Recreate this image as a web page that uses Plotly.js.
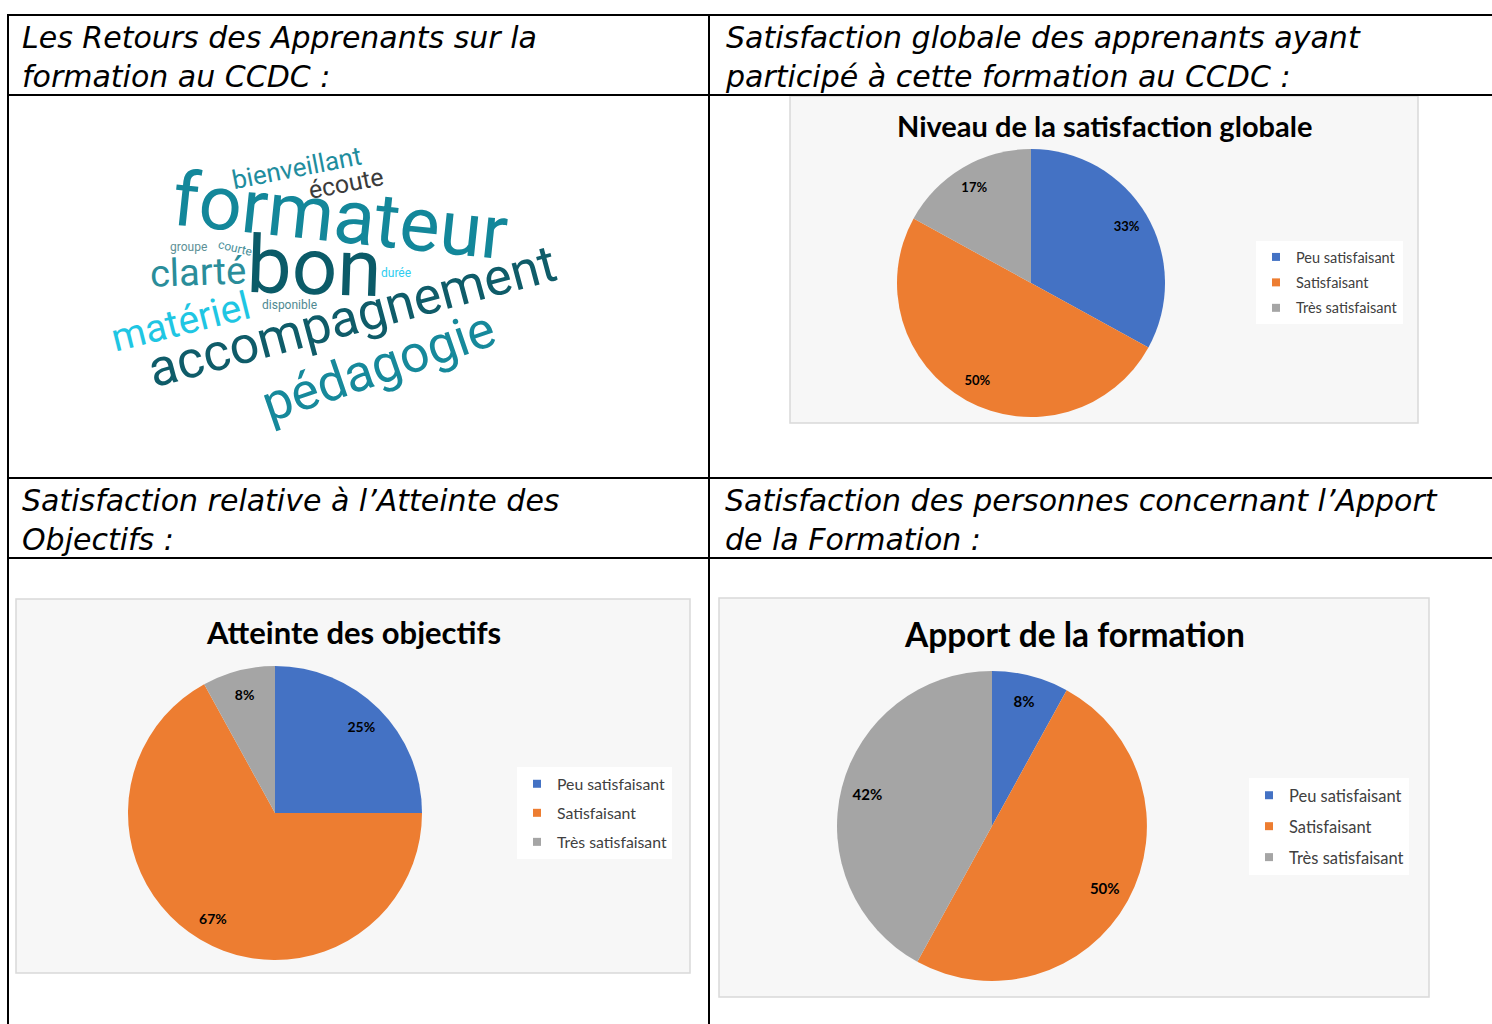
<!DOCTYPE html>
<html>
<head>
<meta charset="utf-8">
<script src="https://cdn.plot.ly/plotly-3.0.1.min.js"></script>
<style>html,body{margin:0;padding:0;background:#fff;}#chart{width:1492px;height:1024px;}</style>
</head>
<body>
<div id="chart"></div>
<script>
// ---------- DATA ----------
const categories = ['Peu satisfaisant', 'Satisfaisant', 'Très satisfaisant'];
const globalValues = [33, 50, 17];
const objectifsValues = [25, 67, 8];
const apportValues = [8, 50, 42];

const chartTitles = ['Niveau de la satisfaction globale', 'Atteinte des objectifs', 'Apport de la formation'];

const cellHeaders = [
  'Les Retours des Apprenants sur la<br>formation au CCDC :',
  'Satisfaction globale des apprenants ayant<br>participé à cette formation au CCDC :',
  'Satisfaction relative à l’Atteinte des<br>Objectifs :',
  'Satisfaction des personnes concernant l’Apport<br>de la Formation :'
];

const cloudWords = ['formateur', 'bon', 'accompagnement', 'pédagogie', 'matériel', 'clarté',
  'bienveillant', 'écoute', 'groupe', 'courte', 'durée', 'disponible'];

// ---------- LAYOUT HELPERS ----------
const W = 1492, H = 1024;
const X = px => px / W;
const Y = py => 1 - py / H;
const colors = ['#4472C4', '#ED7D31', '#A5A5A5'];
const clear = ['rgba(0,0,0,0)', 'rgba(0,0,0,0)', 'rgba(0,0,0,0)'];

// word cloud placement (style only)
const cloudStyle = [
  {x: 340, y: 216, size: 76, angle: 6,   color: '#13879a'},
  {x: 314, y: 267, size: 80, angle: 2,   color: '#0b5b68'},
  {x: 352, y: 316, size: 52, angle: -15, color: '#0f5c69'},
  {x: 378, y: 366, size: 52, angle: -19, color: '#16899b'},
  {x: 181, y: 322, size: 39, angle: -14, color: '#1fc6e3'},
  {x: 198, y: 272, size: 38, angle: -2,  color: '#2a8d9a'},
  {x: 296, y: 168, size: 26, angle: -11, color: '#1f8d9e'},
  {x: 346, y: 183, size: 25, angle: -11, color: '#3b3b3b'},
  {x: 188, y: 247, size: 12, angle: 0,   color: '#5d9096'},
  {x: 235, y: 248, size: 12, angle: 13,  color: '#4a909a'},
  {x: 396, y: 273, size: 12, angle: 0,   color: '#2fcdef'},
  {x: 289, y: 305, size: 12, angle: 0,   color: '#4f8991'}
];

function pieDomain(cx, cy, r) {
  return {x: [X(cx - r), X(cx + r)], y: [Y(cy + r), Y(cy - r)]};
}

function pieTrace(values, dom) {
  return {
    type: 'pie', labels: categories, values: values, sort: false,
    direction: 'clockwise', rotation: 0, domain: dom,
    marker: {colors: colors, line: {width: 0}},
    textinfo: 'none', hoverinfo: 'none', showlegend: false
  };
}
// transparent ring carrying the data labels (places them near the rim, like Excel)
function labelTrace(values, dom, fontSize) {
  return {
    type: 'pie', labels: categories, values: values, sort: false,
    direction: 'clockwise', rotation: 0, domain: dom, hole: 0.66,
    marker: {colors: clear, line: {width: 0}},
    texttemplate: '%{value}%', textposition: 'inside',
    insidetextorientation: 'horizontal',
    textfont: {family: 'Lato', size: fontSize, color: '#000', weight: 'bold'},
    hoverinfo: 'none', showlegend: false
  };
}
function legendEntries(legendId) {
  return categories.map((c, i) => ({
    type: 'scatter', x: [null], y: [null], mode: 'markers', name: c,
    marker: {symbol: 'square', size: 8, color: colors[i]},
    legend: legendId, legendgroup: legendId + '_' + i, showlegend: true, hoverinfo: 'skip'
  }));
}

const d1 = pieDomain(1031, 283, 134);
const d2 = pieDomain(275, 813, 147);
const d3 = pieDomain(992, 826, 155);

const data = [
  pieTrace(globalValues, d1), labelTrace(globalValues, d1, 13),
  pieTrace(objectifsValues, d2), labelTrace(objectifsValues, d2, 14),
  pieTrace(apportValues, d3), labelTrace(apportValues, d3, 15),
  ...legendEntries('legend'), ...legendEntries('legend2'), ...legendEntries('legend3')
];

// ---------- SHAPES ----------
const shapes = [];
function panel(x0, y0, x1, y1) {
  shapes.push({type: 'rect', xref: 'paper', yref: 'paper', layer: 'below',
    x0: X(x0), x1: X(x1), y0: Y(y1), y1: Y(y0),
    fillcolor: '#f7f7f7', line: {color: '#d9d9d9', width: 1.5}});
}
panel(790, 96, 1418, 423);
panel(16, 599, 690, 973);
panel(719, 598, 1429, 997);

function hline(y, x0, x1) {
  shapes.push({type: 'line', xref: 'paper', yref: 'paper', x0: X(x0), x1: X(x1), y0: Y(y), y1: Y(y),
    line: {color: '#000', width: 2}});
}
function vline(x, y0, y1) {
  shapes.push({type: 'line', xref: 'paper', yref: 'paper', x0: X(x), x1: X(x), y0: Y(y0), y1: Y(y1),
    line: {color: '#000', width: 2}});
}
[15, 95, 478, 558].forEach(y => hline(y, 7, W));
vline(8, 14, H);
vline(709, 14, H);

// ---------- ANNOTATIONS ----------
const annotations = [];
const headerPos = [[20, 18], [723, 18], [20, 481], [723, 481]];
cellHeaders.forEach((t, i) => {
  annotations.push({xref: 'paper', yref: 'paper', x: X(headerPos[i][0]), y: Y(headerPos[i][1]),
    xanchor: 'left', yanchor: 'top', align: 'left', showarrow: false, text: t,
    font: {family: 'DejaVu Sans', size: 30, color: '#000', style: 'italic'}});
});

const titlePos = [[1104, 125, 29], [353, 632, 31], [1074, 634, 33.5]];
chartTitles.forEach((t, i) => {
  annotations.push({xref: 'paper', yref: 'paper', x: X(titlePos[i][0]), y: Y(titlePos[i][1]),
    xanchor: 'center', yanchor: 'middle', showarrow: false, text: t,
    font: {family: 'Lato', size: titlePos[i][2], color: '#000', weight: 'bold'}});
});

cloudWords.forEach((w, i) => {
  const s = cloudStyle[i];
  annotations.push({xref: 'paper', yref: 'paper', x: X(s.x), y: Y(s.y),
    xanchor: 'center', yanchor: 'middle', showarrow: false, text: w, textangle: s.angle,
    font: {family: 'Roboto', size: s.size, color: s.color}});
});

function legendCfg(x, y, size, gap) {
  return {x: X(x), y: Y(y), xanchor: 'left', yanchor: 'top', orientation: 'v',
    bgcolor: 'rgba(255,255,255,0.95)', borderwidth: 0, itemwidth: 30, tracegroupgap: gap,
    font: {family: 'Lato', size: size, color: '#404040'}};
}

const layout = {
  width: W, height: H,
  margin: {l: 0, r: 0, t: 0, b: 0},
  paper_bgcolor: '#fff',
  plot_bgcolor: 'rgba(0,0,0,0)',
  xaxis: {visible: false, domain: [0, 1]},
  yaxis: {visible: false, domain: [0, 1]},
  showlegend: true,
  legend: legendCfg(1256, 241, 14.5, 3.6),
  legend2: legendCfg(517, 767, 15.8, 5.5),
  legend3: legendCfg(1249, 778, 16.5, 6.5),
  shapes: shapes,
  annotations: annotations
};

Plotly.newPlot('chart', data, layout, {displayModeBar: false, staticPlot: true});
</script>
</body>
</html>
